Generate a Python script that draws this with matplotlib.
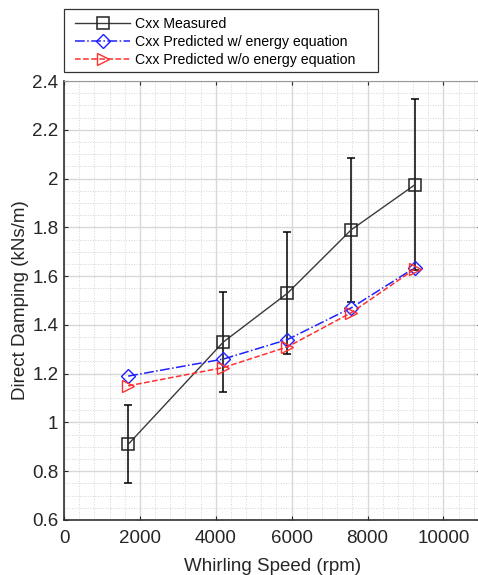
import numpy as np
import matplotlib.pyplot as plt
from matplotlib.ticker import MultipleLocator

plt.rcParams['font.family'] = ['Liberation Sans', 'DejaVu Sans']

# data
speed = [1690, 4200, 5890, 7570, 9250]
cxx_meas = [0.91, 1.33, 1.53, 1.79, 1.975]
cxx_err = [0.16, 0.205, 0.25, 0.295, 0.35]
cxx_with_energy = [1.19, 1.26, 1.34, 1.47, 1.635]
cxx_without_energy = [1.15, 1.225, 1.31, 1.45, 1.63]

legend_labels = ['Cxx Measured',
                 'Cxx Predicted w/ energy equation',
                 'Cxx Predicted w/o energy equation']

W, H = 478, 575
fig = plt.figure(figsize=(W / 100, H / 100), dpi=100)
ax = fig.add_axes([0.134, 0.0957, 0.873, 0.7633])

# error bars drawn separately so the legend only shows line + marker
ax.errorbar(speed, cxx_meas, yerr=cxx_err, fmt='none', ecolor='black',
            elinewidth=1.1, capsize=3, capthick=1.1, zorder=3)
h1, = ax.plot(speed, cxx_meas, color='#3a3a3a', lw=1.0,
              marker='s', ms=8, mfc='none', mec='#222222', mew=1.1, zorder=3)
h2, = ax.plot(speed, cxx_with_energy, color='#2020ff', ls='-.', lw=1.1,
              marker='D', ms=7, mfc='none', mec='#2020ff', mew=1.0, zorder=4)
h3, = ax.plot(speed, cxx_without_energy, color='#ff3030', ls='--', lw=1.1,
              marker='>', ms=9, mfc='none', mec='#ff3030', mew=1.0, zorder=4)

ax.set_xlim(0, 11000)
ax.set_ylim(0.6, 2.4)
ax.set_xticks([0, 2000, 4000, 6000, 8000, 10000])
ax.set_yticks(np.arange(0.6, 2.41, 0.2))
ax.set_yticklabels(['0.6', '0.8', '1', '1.2', '1.4', '1.6', '1.8', '2', '2.2', '2.4'])
ax.xaxis.set_minor_locator(MultipleLocator(400))
ax.yaxis.set_minor_locator(MultipleLocator(0.05))

ax.grid(which='major', color='#d8d8d8', lw=1.0)
ax.grid(which='minor', color='#d4d4d4', lw=0.7, ls=':')
ax.set_axisbelow(True)

ax.tick_params(which='both', direction='in', top=True, right=True,
               labelsize=13.5, colors='#262626', length=3)
ax.tick_params(axis='x', pad=7)
ax.tick_params(axis='y', pad=4)
ax.tick_params(which='minor', length=0)
for side in ['left', 'bottom']:
    ax.spines[side].set_color('#303030')
    ax.spines[side].set_linewidth(1.2)
for side in ['top', 'right']:
    ax.spines[side].set_color('#999999')
    ax.spines[side].set_linewidth(0.8)

ax.set_xlabel('Whirling Speed (rpm)', fontsize=13.5, color='#262626', labelpad=8)
ax.set_ylabel('Direct Damping (kNs/m)', fontsize=13.5, color='#262626', labelpad=2)

# legend box above the axes, frame drawn by hand
fig.add_artist(plt.Rectangle((64 / W, 1 - 72 / H), 314 / W, 63 / H,
                             transform=fig.transFigure, fill=False,
                             ec='#333333', lw=0.9))
fig.legend([h1, h2, h3], legend_labels, loc='center left',
           bbox_to_anchor=(75 / W, 1 - 42 / H), fontsize=10.2, frameon=False,
           handlelength=3.9, handletextpad=0.35, borderaxespad=0,
           labelspacing=0.3, borderpad=0)

fig.savefig('out.png', dpi=100)
